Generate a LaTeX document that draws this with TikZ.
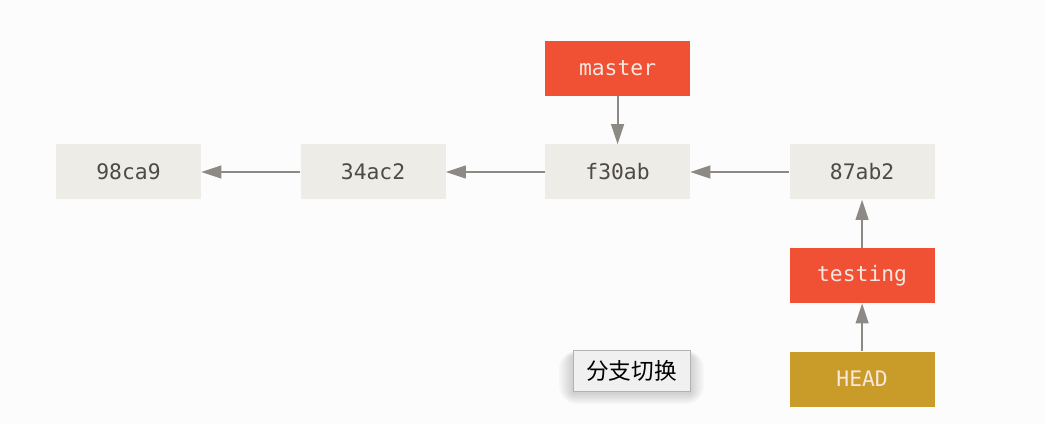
\documentclass[tikz,border=0pt]{standalone}
\usepackage{fontspec}
\setmonofont{DejaVu Sans Mono}
\newfontfamily\cjk{Noto Sans CJK SC}
\usetikzlibrary{positioning,arrows.meta}
\definecolor{commitfill}{HTML}{EDECE6}
\definecolor{committext}{HTML}{4E4A44}
\definecolor{branchred}{HTML}{F05033}
\definecolor{branchtext}{HTML}{F7E7E0}
\definecolor{headgold}{HTML}{C99B29}
\definecolor{arrowgray}{HTML}{8D8A85}
\begin{document}
\begin{tikzpicture}[x=0.75pt, y=-0.75pt, node distance=36pt and 74.25pt,
    every node/.style={minimum width=108.75pt, minimum height=41.25pt, inner sep=0pt,
      font=\ttfamily\fontsize{16}{18}\selectfont},
    commit/.style={fill=commitfill, text=committext},
    branch/.style={fill=branchred, text=branchtext},
    headref/.style={fill=headgold, text=branchtext},
    ptr/.style={draw=arrowgray, line width=1.5pt, -{Triangle[length=15pt,width=9.5pt]}}]
        \fill[white!99!black] (0,0) rectangle (1046,424);
        \useasboundingbox (0,0) rectangle (1046,424);

        \node[commit] (c98ca9) at (128.5,172) {98ca9};
        \node[commit] (c34ac2) [right=of c98ca9] {34ac2};
        \node[commit] (cf30ab) [right=of c34ac2] {f30ab};
        \node[commit] (c87ab2) [right=of cf30ab] {87ab2};
        \node[branch] (master) [above=of cf30ab] {master};
        \node[branch] (testing) [below=of c87ab2] {testing};
        \node[headref] (head) [below=of testing] {HEAD};

        \draw[ptr] (c34ac2) -- (c98ca9);
        \draw[ptr] (cf30ab) -- (c34ac2);
        \draw[ptr] (c87ab2) -- (cf30ab);
        \draw[ptr] (master) -- (cf30ab);
        \draw[ptr] (testing) -- (c87ab2);
        \draw[ptr] (head) -- (testing);

        % switch button, soft shadow first
        \foreach \r in {2,4,...,14}
          \fill[black, opacity=0.022, rounded corners=\r] (573-\r,356-\r*0.4) rectangle (690+\r,393+\r*0.8);
        \node[draw=black!30, fill=black!6, minimum width=87.75pt, minimum height=30.75pt,
          font=\cjk\fontsize{17}{19}\selectfont, text=black]
          (switch) at (631.5,370.5) {分支切换};
    \end{tikzpicture}
\end{document}
